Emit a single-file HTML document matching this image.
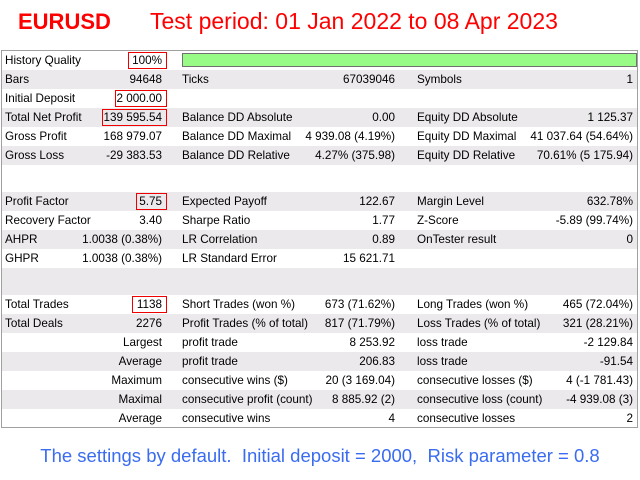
<!DOCTYPE html>
<html><head><meta charset="utf-8"><style>
body{margin:0;width:640px;height:480px;background:#fff;position:relative;overflow:hidden;font-family:"Liberation Sans",sans-serif;}
.t{position:absolute;white-space:nowrap;}
#tbl{position:absolute;left:1px;top:50px;width:637px;height:378px;border:1px solid #a0a0a0;box-sizing:border-box;}
.r{position:absolute;left:0;width:100%;height:19px;font-size:11.7px;line-height:19px;color:#000;}
.g{background:#ece9ec;}
.r span{position:absolute;top:0;white-space:nowrap;}
.l1{left:3px}.v1{right:475px;text-align:right}.l2{left:180px}.v2{right:242px}.l3{left:415px}.v3{right:4px}
.box{position:absolute;border:1px solid #e00;height:15px;top:1px;}
</style></head><body>
<div class="t" style="left:18px;top:9px;font-size:22px;font-weight:bold;color:#f00;">EURUSD</div>
<div class="t" style="left:150px;top:8px;font-size:23px;color:#f00;">Test period: 01 Jan 2022 to 08 Apr 2023</div>
<div id="tbl">
<div class="r" style="top:0"><span class="l1">History Quality</span><span class="v1">100%</span><div class="box" style="left:126px;width:37px"></div><div style="position:absolute;left:180px;top:2px;width:455px;height:14px;background:#98fb86;border:1px solid #707070;box-sizing:border-box"></div></div>
<div class="r g" style="top:19px"><span class="l1">Bars</span><span class="v1">94648</span><span class="l2">Ticks</span><span class="v2">67039046</span><span class="l3">Symbols</span><span class="v3">1</span></div>
<div class="r" style="top:38px"><span class="l1">Initial Deposit</span><span class="v1">2 000.00</span><div class="box" style="left:113px;width:50px"></div></div>
<div class="r g" style="top:57px"><span class="l1">Total Net Profit</span><span class="v1">139 595.54</span><div class="box" style="left:100px;width:63px"></div><span class="l2">Balance DD Absolute</span><span class="v2">0.00</span><span class="l3">Equity DD Absolute</span><span class="v3">1 125.37</span></div>
<div class="r" style="top:76px"><span class="l1">Gross Profit</span><span class="v1">168 979.07</span><span class="l2">Balance DD Maximal</span><span class="v2">4 939.08 (4.19%)</span><span class="l3">Equity DD Maximal</span><span class="v3">41 037.64 (54.64%)</span></div>
<div class="r g" style="top:95px"><span class="l1">Gross Loss</span><span class="v1">-29 383.53</span><span class="l2">Balance DD Relative</span><span class="v2">4.27% (375.98)</span><span class="l3">Equity DD Relative</span><span class="v3">70.61% (5 175.94)</span></div>
<div class="r g" style="top:141px"><span class="l1">Profit Factor</span><span class="v1">5.75</span><div class="box" style="left:134px;width:29px"></div><span class="l2">Expected Payoff</span><span class="v2">122.67</span><span class="l3">Margin Level</span><span class="v3">632.78%</span></div>
<div class="r" style="top:160px"><span class="l1">Recovery Factor</span><span class="v1">3.40</span><span class="l2">Sharpe Ratio</span><span class="v2">1.77</span><span class="l3">Z-Score</span><span class="v3">-5.89 (99.74%)</span></div>
<div class="r g" style="top:179px"><span class="l1">AHPR</span><span class="v1">1.0038 (0.38%)</span><span class="l2">LR Correlation</span><span class="v2">0.89</span><span class="l3">OnTester result</span><span class="v3">0</span></div>
<div class="r" style="top:198px"><span class="l1">GHPR</span><span class="v1">1.0038 (0.38%)</span><span class="l2">LR Standard Error</span><span class="v2">15 621.71</span></div>
<div class="r g" style="top:217px;height:27px"></div>
<div class="r" style="top:244px"><span class="l1">Total Trades</span><span class="v1">1138</span><div class="box" style="left:130px;width:33px"></div><span class="l2">Short Trades (won %)</span><span class="v2">673 (71.62%)</span><span class="l3">Long Trades (won %)</span><span class="v3">465 (72.04%)</span></div>
<div class="r g" style="top:263px"><span class="l1">Total Deals</span><span class="v1">2276</span><span class="l2">Profit Trades (% of total)</span><span class="v2">817 (71.79%)</span><span class="l3">Loss Trades (% of total)</span><span class="v3">321 (28.21%)</span></div>
<div class="r" style="top:282px"><span class="v1">Largest</span><span class="l2">profit trade</span><span class="v2">8 253.92</span><span class="l3">loss trade</span><span class="v3">-2 129.84</span></div>
<div class="r g" style="top:301px"><span class="v1">Average</span><span class="l2">profit trade</span><span class="v2">206.83</span><span class="l3">loss trade</span><span class="v3">-91.54</span></div>
<div class="r" style="top:320px"><span class="v1">Maximum</span><span class="l2">consecutive wins ($)</span><span class="v2">20 (3 169.04)</span><span class="l3">consecutive losses ($)</span><span class="v3">4 (-1 781.43)</span></div>
<div class="r g" style="top:339px"><span class="v1">Maximal</span><span class="l2">consecutive profit (count)</span><span class="v2">8 885.92 (2)</span><span class="l3">consecutive loss (count)</span><span class="v3">-4 939.08 (3)</span></div>
<div class="r" style="top:358px"><span class="v1">Average</span><span class="l2">consecutive wins</span><span class="v2">4</span><span class="l3">consecutive losses</span><span class="v3">2</span></div>
</div>
<div class="t" style="left:0;width:640px;text-align:center;top:445px;font-size:18.5px;color:#3a6cf0;">The settings by default.&nbsp; Initial deposit = 2000,&nbsp; Risk parameter = 0.8</div>
</body></html>
